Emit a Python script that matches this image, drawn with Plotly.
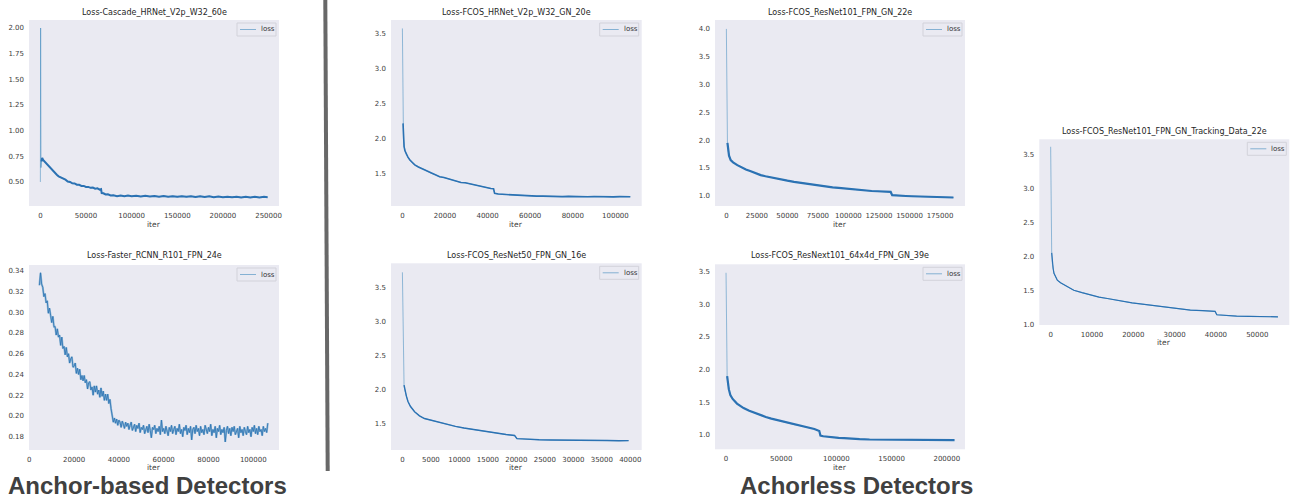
import plotly.graph_objects as go

# ---------------- data ----------------
titles = [
    "Loss-Cascade_HRNet_V2p_W32_60e",
    "Loss-Faster_RCNN_R101_FPN_24e",
    "Loss-FCOS_HRNet_V2p_W32_GN_20e",
    "Loss-FCOS_ResNet50_FPN_GN_16e",
    "Loss-FCOS_ResNet101_FPN_GN_22e",
    "Loss-FCOS_ResNext101_64x4d_FPN_GN_39e",
    "Loss-FCOS_ResNet101_FPN_GN_Tracking_Data_22e",
]
series_name = "loss"
xlabel = "iter"
group_labels = ["Anchor-based Detectors", "Achorless Detectors"]

cascade_iter = [0, 300, 700, 1200, 2000, 3000, 4500, 6000, 8000, 10000, 12000, 14000, 16000, 18000, 20000,
                22500, 25000, 27500, 30000, 32500, 35000, 37500, 40000, 42500, 45000, 47500, 50000, 52500,
                55000, 57500, 60000, 62500, 65000, 66500, 67200, 69000, 71500, 74000, 77000, 80000, 84000,
                88000, 92000, 96000, 100000, 105000, 110000, 115000, 120000, 125000, 130000, 135000, 140000,
                145000, 150000, 155000, 160000, 165000, 170000, 175000, 180000, 185000, 190000, 195000,
                200000, 205000, 210000, 215000, 220000, 225000, 230000, 235000, 240000, 245000, 249000]
cascade_loss = [0.50, 2.00, 0.64, 0.70, 0.735, 0.715, 0.70, 0.685, 0.66, 0.64, 0.625, 0.60, 0.59, 0.57, 0.555,
                0.545, 0.528, 0.522, 0.505, 0.50, 0.487, 0.486, 0.474, 0.472, 0.462, 0.462, 0.452, 0.452,
                0.443, 0.445, 0.435, 0.438, 0.425, 0.43, 0.392, 0.39, 0.378, 0.38, 0.368, 0.37, 0.362,
                0.368, 0.36, 0.367, 0.36, 0.366, 0.358, 0.365, 0.358, 0.364, 0.357, 0.363, 0.356,
                0.362, 0.355, 0.362, 0.355, 0.361, 0.354, 0.36, 0.353, 0.36, 0.352, 0.358,
                0.351, 0.357, 0.351, 0.357, 0.35, 0.356, 0.35, 0.356, 0.349, 0.355, 0.352]

frcnn_iter = [
    4500, 5000, 5500, 6000, 6500, 7000, 7500, 8000, 8500, 9000,
    9500, 10000, 10500, 11000, 11500, 12000, 12500, 13000, 13500, 14000,
    14500, 15000, 15500, 16000, 16500, 17000, 17500, 18000, 18500, 19000,
    19500, 20000, 20500, 21000, 21500, 22000, 22500, 23000, 23500, 24000,
    24500, 25000, 25500, 26000, 26500, 27000, 27500, 28000, 28500, 29000,
    29500, 30000, 30500, 31000, 31500, 32000, 32500, 33000, 33500, 34000,
    34500, 35000, 35500, 36000, 36500, 37000, 37500, 38000, 38500, 39000,
    39500, 40000, 40500, 41000, 41500, 42000, 42500, 43000, 43500, 44000,
    44500, 45000, 45500, 46000, 46500, 47000, 47500, 48000, 48500, 49000,
    49500, 50000, 50500, 51000, 51500, 52000, 52500, 53000, 53500, 54000,
    54500, 55000, 55500, 56000, 56500, 57000, 57500, 58000, 58500, 59000,
    59500, 60000, 60500, 61000, 61500, 62000, 62500, 63000, 63500, 64000,
    64500, 65000, 65500, 66000, 66500, 67000, 67500, 68000, 68500, 69000,
    69500, 70000, 70500, 71000, 71500, 72000, 72500, 73000, 73500, 74000,
    74500, 75000, 75500, 76000, 76500, 77000, 77500, 78000, 78500, 79000,
    79500, 80000, 80500, 81000, 81500, 82000, 82500, 83000, 83500, 84000,
    84500, 85000, 85500, 86000, 86500, 87000, 87500, 88000, 88500, 89000,
    89500, 90000, 90500, 91000, 91500, 92000, 92500, 93000, 93500, 94000,
    94500, 95000, 95500, 96000, 96500, 97000, 97500, 98000, 98500, 99000,
    99500, 100000, 100500, 101000, 101500, 102000, 102500, 103000, 103500, 104000,
    104500, 105000, 105500, 106000, 106500]
frcnn_loss = [
    0.326, 0.338, 0.327, 0.324, 0.315, 0.318, 0.309, 0.311, 0.299, 0.304,
    0.297, 0.290, 0.296, 0.286, 0.286, 0.278, 0.284, 0.276, 0.278, 0.268,
    0.276, 0.265, 0.267, 0.259, 0.266, 0.257, 0.260, 0.251, 0.255, 0.257,
    0.247, 0.248, 0.251, 0.241, 0.246, 0.240, 0.245, 0.235, 0.239, 0.234,
    0.239, 0.232, 0.235, 0.226, 0.232, 0.233, 0.225, 0.228, 0.220, 0.229,
    0.223, 0.229, 0.221, 0.225, 0.218, 0.227, 0.219, 0.224, 0.215, 0.221,
    0.215, 0.221, 0.212, 0.216, 0.207, 0.199, 0.194, 0.198, 0.193, 0.197,
    0.191, 0.196, 0.194, 0.189, 0.195, 0.192, 0.188, 0.194, 0.190, 0.193,
    0.187, 0.191, 0.194, 0.186, 0.190, 0.192, 0.185, 0.191, 0.188, 0.193,
    0.184, 0.189, 0.187, 0.191, 0.183, 0.188, 0.190, 0.184, 0.192, 0.186,
    0.179, 0.189, 0.187, 0.191, 0.183, 0.188, 0.185, 0.190, 0.182, 0.196,
    0.185, 0.188, 0.183, 0.190, 0.186, 0.181, 0.189, 0.185, 0.191, 0.183,
    0.187, 0.190, 0.182, 0.188, 0.185, 0.192, 0.183, 0.187, 0.180, 0.189,
    0.186, 0.191, 0.182, 0.188, 0.184, 0.190, 0.177, 0.187, 0.189, 0.183,
    0.191, 0.185, 0.188, 0.181, 0.190, 0.184, 0.187, 0.182, 0.191, 0.186,
    0.183, 0.189, 0.185, 0.192, 0.181, 0.187, 0.184, 0.190, 0.179, 0.188,
    0.185, 0.191, 0.182, 0.187, 0.184, 0.189, 0.175, 0.186, 0.190, 0.183,
    0.188, 0.181, 0.189, 0.185, 0.190, 0.182, 0.186, 0.188, 0.179, 0.190,
    0.184, 0.187, 0.181, 0.189, 0.185, 0.182, 0.190, 0.184, 0.187, 0.180,
    0.189, 0.185, 0.191, 0.183, 0.188, 0.182, 0.190, 0.185, 0.187, 0.181,
    0.190, 0.185, 0.188, 0.184, 0.193]

fcos_hr_iter = [0, 150, 300, 500, 800, 1200, 1800, 2600, 3500, 4500, 5800, 7500, 9000, 10500, 12000,
                13500, 15500, 17500, 19500, 21500, 23500, 25500, 27500, 29500, 31500, 33500, 35500, 37500,
                39500, 41500, 42800, 43300, 45000, 47500, 50000, 52500, 55000, 57500, 60000, 63000, 66000,
                69000, 72000, 75000, 78000, 81000, 84000, 87000, 90000, 93000, 96000, 99000, 102000, 105000,
                107000]
fcos_hr_loss = [3.57, 2.70, 2.22, 2.00, 1.89, 1.83, 1.78, 1.74, 1.70, 1.67, 1.63, 1.60, 1.58, 1.56, 1.53,
                1.51, 1.49, 1.46, 1.45, 1.43, 1.41, 1.40, 1.38, 1.375, 1.36, 1.35, 1.335, 1.325,
                1.31, 1.295, 1.29, 1.225, 1.215, 1.21, 1.205, 1.20, 1.195, 1.195, 1.19, 1.185, 1.185,
                1.18, 1.183, 1.178, 1.182, 1.177, 1.181, 1.176, 1.18, 1.176, 1.179, 1.175, 1.178, 1.175,
                1.177]

fcos_r50_iter = [0, 60, 115, 200, 290, 400, 520, 700, 980, 1400, 2140, 3000, 3870, 5030, 6500, 7900, 9300,
                 10800, 12200, 13700, 15100, 16600, 18200, 19700, 20100, 21000, 22400, 24000, 26000, 28100,
                 30000, 32000, 33900, 36000, 38000, 39700]
fcos_r50_loss = [3.72, 3.2, 2.80, 2.35, 2.06, 2.00, 1.97, 1.90, 1.82, 1.75, 1.67, 1.61, 1.57, 1.545, 1.51,
                 1.48, 1.455, 1.43, 1.41, 1.39, 1.37, 1.35, 1.335, 1.32, 1.275, 1.27, 1.26, 1.258, 1.254,
                 1.25, 1.248, 1.247, 1.245, 1.246, 1.244, 1.245]

fcos_r101_iter = [0, 300, 550, 900, 1365, 2200, 3550, 5500, 9000, 12500, 16000, 20000, 24000, 28100, 32000,
                  36000, 41800, 46000, 50000, 55400, 60000, 65000, 69000, 74000, 78000, 82700, 87000, 92000,
                  96400, 101000, 106000, 110000, 115000, 119000, 123700, 128000, 132000, 134600, 135800,
                  138000, 142000, 147000, 152000, 157000, 162000, 167000, 172000, 177000, 182000, 186000]
fcos_r101_loss = [4.0, 2.7, 2.12, 1.95, 1.82, 1.72, 1.64, 1.60, 1.55, 1.51, 1.47, 1.44, 1.405, 1.37, 1.35,
                  1.33, 1.31, 1.29, 1.27, 1.25, 1.235, 1.215, 1.20, 1.19, 1.175, 1.165, 1.15, 1.14,
                  1.13, 1.12, 1.105, 1.10, 1.09, 1.085, 1.08, 1.075, 1.07, 1.068, 1.01,
                  1.005, 1.0, 0.995, 0.99, 0.985, 0.98, 0.978, 0.975, 0.972, 0.97, 0.968]

fcos_x101_iter = [0, 300, 600, 1000, 1500, 2500, 3900, 6000, 9900, 15900, 21000, 26000, 31000, 36000, 41000,
                  46000, 51000, 56000, 61000, 66000, 71000, 76000, 80000, 84500, 85500, 88000, 92000, 97000,
                  102000, 107000, 114000, 121000, 130000, 140000, 150000, 160000, 170000, 180000, 190000,
                  200000, 207000]
fcos_x101_loss = [3.48, 2.5, 2.02, 1.9, 1.80, 1.70, 1.61, 1.55, 1.48, 1.41, 1.37, 1.335, 1.30, 1.275, 1.25,
                  1.23, 1.205, 1.185, 1.16, 1.145, 1.125, 1.11, 1.09, 1.06, 0.99, 0.98, 0.97, 0.96,
                  0.955, 0.95, 0.94, 0.935, 0.93, 0.928, 0.926, 0.925, 0.924, 0.923, 0.922,
                  0.922, 0.921]

tracking_iter = [0, 80, 160, 250, 400, 600, 800, 1200, 1600, 2400, 3200, 4400, 5600, 7600, 9650, 11700,
                 13700, 15700, 17700, 19700, 21700, 23700, 25700, 27700, 29750, 31800, 33800, 36800, 39800,
                 40200, 42000, 45000, 48000, 51000, 55000]
tracking_loss = [3.61, 2.9, 2.19, 2.05, 1.90, 1.82, 1.75, 1.70, 1.65, 1.61, 1.58, 1.54, 1.50, 1.465, 1.43,
                 1.40, 1.38, 1.355, 1.33, 1.315, 1.30, 1.285, 1.27, 1.255, 1.24, 1.225, 1.21, 1.20, 1.19,
                 1.14, 1.13, 1.12, 1.117, 1.113, 1.11]

# tick values
xticks = [
    [0, 50000, 100000, 150000, 200000, 250000],
    [0, 20000, 40000, 60000, 80000, 100000],
    [0, 20000, 40000, 60000, 80000, 100000],
    [0, 5000, 10000, 15000, 20000, 25000, 30000, 35000, 40000],
    [0, 25000, 50000, 75000, 100000, 125000, 150000, 175000],
    [0, 50000, 100000, 150000, 200000],
    [0, 10000, 20000, 30000, 40000, 50000],
]
yticks = [
    [0.50, 0.75, 1.00, 1.25, 1.50, 1.75, 2.00],
    [0.18, 0.20, 0.22, 0.24, 0.26, 0.28, 0.30, 0.32, 0.34],
    [1.5, 2.0, 2.5, 3.0, 3.5],
    [1.5, 2.0, 2.5, 3.0, 3.5],
    [1.0, 1.5, 2.0, 2.5, 3.0, 3.5, 4.0],
    [1.0, 1.5, 2.0, 2.5, 3.0, 3.5],
    [1.0, 1.5, 2.0, 2.5, 3.0, 3.5],
]
series = [
    (cascade_iter, cascade_loss),
    (frcnn_iter, frcnn_loss),
    (fcos_hr_iter, fcos_hr_loss),
    (fcos_r50_iter, fcos_r50_loss),
    (fcos_r101_iter, fcos_r101_loss),
    (fcos_x101_iter, fcos_x101_loss),
    (tracking_iter, tracking_loss),
]
for _xs, _ys in series:
    assert len(_xs) == len(_ys), (len(_xs), len(_ys))

# ---------------- layout (pixels) ----------------
W, H = 1291, 502
# plot boxes: left, right, top, bottom (px)
boxes = [
    (29, 279, 20, 206),
    (29, 279, 265, 450),
    (391, 641.7, 20, 206),
    (391, 641.7, 263.3, 450),
    (715, 965, 20, 206),
    (715, 965, 264.3, 449.3),
    (1039.3, 1289.3, 139.3, 325),
]
xranges = [[-12450, 261450], [-150, 111500], [-5350, 112350], [-2000, 42000],
           [-9300, 195450], [-10000, 216500], [-2750, 57750]]
yranges = [[0.266, 2.078], [0.1672, 0.3455], [1.045, 3.69], [1.107, 3.853],
           [0.815, 4.16], [0.78, 3.61], [0.99, 3.72]]
yfmt = [".2f", ".2f", ".1f", ".1f", ".1f", ".1f", ".1f"]
dark_from = [3, 0, 2, 4, 3, 3, 3]
light_width = [1.0, 2.0, 1.0, 1.0, 1.0, 1.0, 1.0]
dark_width = [2.0, 0.8, 1.6, 1.4, 2.2, 2.2, 1.2]
title_y = [13, 255.7, 13, 255.7, 13, 255.7, 131.7]
iter_y = [224, 467, 224, 467.3, 224, 467.3, 342.7]

LIGHT = "rgba(31,119,180,0.45)"
DARK = "#2b72b3"
FONT = "DejaVu Sans"
TICKC = "#3c3c3c"


def px(xp):
    return xp / W


def py(yp):
    return 1 - yp / H


fig = go.Figure()
layout = dict(
    width=W, height=H, margin=dict(l=0, r=0, t=0, b=0, autoexpand=False),
    paper_bgcolor="white", plot_bgcolor="#EAEAF2",
    showlegend=False,
)
annotations = []
shapes = []
for i in range(7):
    n = "" if i == 0 else str(i + 1)
    xa, ya = "x" + n, "y" + n
    xs, ys = series[i]
    l, r, t, b = boxes[i]
    k = dark_from[i]
    fig.add_trace(go.Scatter(x=xs, y=ys, mode="lines", name=series_name,
                             line=dict(color=LIGHT, width=light_width[i]),
                             xaxis=xa, yaxis=ya))
    fig.add_trace(go.Scatter(x=xs[k:], y=ys[k:], mode="lines", name=series_name,
                             line=dict(color=DARK, width=dark_width[i]),
                             xaxis=xa, yaxis=ya))
    layout["xaxis" + n] = dict(
        domain=[px(l), px(r)], anchor=ya, range=xranges[i], automargin=False,
        tickvals=xticks[i], tickformat="d", showgrid=False, zeroline=False,
        showline=False, ticks="", ticklabelstandoff=4,
        tickfont=dict(family=FONT, size=7, color=TICKC),
    )
    layout["yaxis" + n] = dict(
        domain=[py(b), py(t)], anchor=xa, range=yranges[i], automargin=False,
        tickvals=yticks[i], tickformat=yfmt[i], showgrid=False, zeroline=False,
        showline=False, ticks="", ticklabelstandoff=4,
        tickfont=dict(family=FONT, size=7, color=TICKC),
    )
    # legend box (matplotlib style, upper right)
    shapes.append(dict(type="rect", xref="paper", yref="paper",
                       x0=px(r - 42), x1=px(r - 3), y0=py(t + 16), y1=py(t + 3),
                       fillcolor="rgba(234,234,242,0.85)",
                       line=dict(color="#d2d2da", width=1)))
    shapes.append(dict(type="line", xref="paper", yref="paper",
                       x0=px(r - 39), x1=px(r - 23), y0=py(t + 9.5), y1=py(t + 9.5),
                       line=dict(color="rgba(31,119,180,0.5)", width=1)))
    annotations.append(dict(text=series_name, x=px(r - 20), y=py(t + 9.5),
                            xref="paper", yref="paper", showarrow=False,
                            xanchor="left", yanchor="middle",
                            font=dict(family=FONT, size=7, color="#333333")))
    annotations.append(dict(text=titles[i], x=px((l + r) / 2), y=py(title_y[i]),
                            xref="paper", yref="paper", showarrow=False,
                            xanchor="center", yanchor="middle",
                            font=dict(family=FONT, size=8.0, color="#262626")))
    annotations.append(dict(text=xlabel, x=px((l + r) / 2), y=py(iter_y[i]),
                            xref="paper", yref="paper", showarrow=False,
                            xanchor="center", yanchor="middle",
                            font=dict(family=FONT, size=7.5, color=TICKC)))

for label, cx in zip(group_labels, [147.5, 856]):
    annotations.append(dict(text=label, x=px(cx), y=py(501),
                            xref="paper", yref="paper", showarrow=False,
                            xanchor="center", yanchor="bottom",
                            font=dict(family="Liberation Sans", size=24, weight="bold",
                                      color="#404040")))
shapes.append(dict(type="line", xref="paper", yref="paper",
                   x0=px(325.3), y0=1.0, x1=px(327.7), y1=py(471),
                   line=dict(color="#686868", width=4)))
layout["annotations"] = annotations
layout["shapes"] = shapes
fig.update_layout(**layout)
fig.write_html("out.html", config={"displayModeBar": False},
               post_script="document.body.style.margin='0px';")
